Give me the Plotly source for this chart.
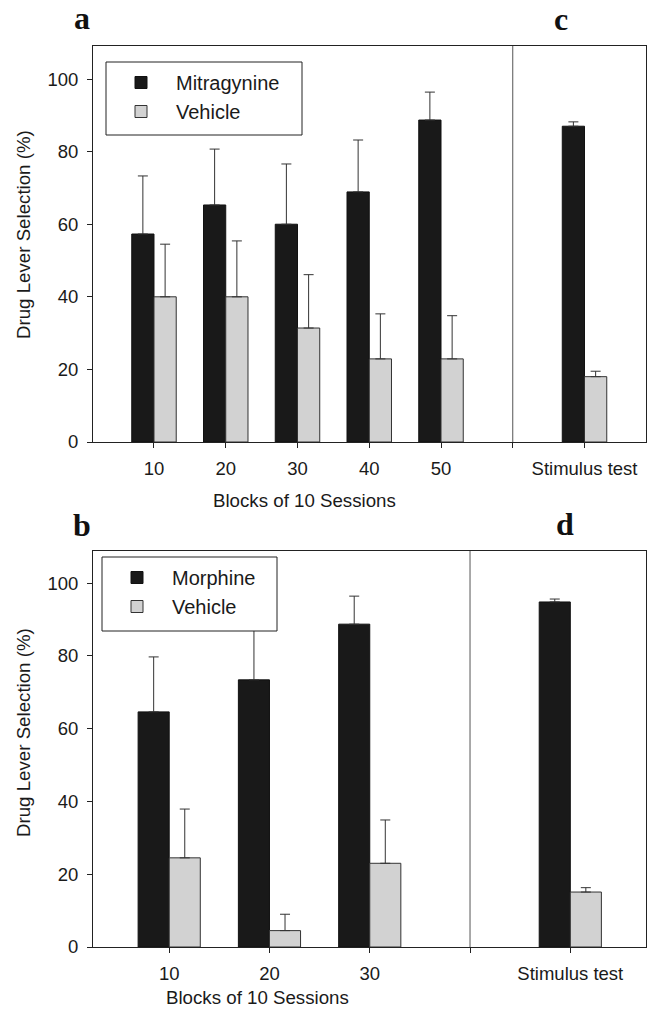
import plotly.graph_objects as go

# ---------------- data ----------------
# Panel a / c : mitragynine training
blocks_a = ["10", "20", "30", "40", "50"]
stim_label = "Stimulus test"
mitragynine = [57.3, 65.3, 60.0, 68.9, 88.7]
mitragynine_err = [16.0, 15.4, 16.6, 14.3, 7.7]
mitragynine_stim = 87.0
mitragynine_stim_err = 1.2
vehicle_a = [40.0, 40.0, 31.4, 22.9, 22.9]
vehicle_a_err = [14.5, 15.4, 14.7, 12.4, 11.9]
vehicle_a_stim = 18.0
vehicle_a_stim_err = 1.5

# Panel b / d : morphine training
blocks_b = ["10", "20", "30"]
morphine = [64.6, 73.4, 88.7]
morphine_err = [15.1, 15.0, 7.7]
morphine_stim = 94.8
morphine_stim_err = 0.8
vehicle_b = [24.5, 4.5, 23.0]
vehicle_b_err = [13.4, 4.5, 11.9]
vehicle_b_stim = 15.1
vehicle_b_stim_err = 1.2

y_ticks = [0, 20, 40, 60, 80, 100]

# ---------------- styling ----------------
FONT = "Liberation Sans, Arial, sans-serif"
SERIF = "Liberation Serif, Times New Roman, serif"
BLACK = "#191919"
GRAY = "#d2d2d2"
EDGE = "#333333"
AX = "#222222"
W = 647
H = 1015
GAP = " "  # empty slot holding the divider

cats_a = blocks_a + [GAP, stim_label]
cats_b = blocks_b + [GAP, stim_label]


def px_x(p):
    return p / W


def px_y(p):
    return 1 - p / H


fig = go.Figure()


def add_pair(drug_name, drug, drug_err, drug_stim, drug_stim_err,
             veh, veh_err, veh_stim, veh_stim_err, blocks, xa, ya, legend):
    x = blocks + [stim_label]
    fig.add_trace(go.Bar(
        x=x, y=drug + [drug_stim], name=drug_name,
        width=0.31, offset=-0.31,
        marker=dict(color=BLACK, line=dict(color="#111111", width=1)),
        error_y=dict(type="data", symmetric=False,
                     array=drug_err + [drug_stim_err],
                     arrayminus=[0] * (len(drug) + 1),
                     color=EDGE, thickness=1, width=5),
        xaxis=xa, yaxis=ya, legend=legend,
    ))
    fig.add_trace(go.Bar(
        x=x, y=veh + [veh_stim], name="Vehicle",
        width=0.31, offset=0,
        marker=dict(color=GRAY, line=dict(color=EDGE, width=1)),
        error_y=dict(type="data", symmetric=False,
                     array=veh_err + [veh_stim_err],
                     arrayminus=[0] * (len(veh) + 1),
                     color=EDGE, thickness=1, width=5),
        xaxis=xa, yaxis=ya, legend=legend,
    ))


add_pair("Mitragynine", mitragynine, mitragynine_err, mitragynine_stim,
         mitragynine_stim_err, vehicle_a, vehicle_a_err, vehicle_a_stim,
         vehicle_a_stim_err, blocks_a, "x", "y", "legend")
add_pair("Morphine", morphine, morphine_err, morphine_stim,
         morphine_stim_err, vehicle_b, vehicle_b_err, vehicle_b_stim,
         vehicle_b_stim_err, blocks_b, "x2", "y2", "legend2")

x_dom = [px_x(93), px_x(645.5)]
axis_common = dict(showline=True, linecolor=AX, linewidth=1, mirror=True,
                   ticks="outside", ticklen=5, tickcolor=AX, tickwidth=1,
                   showgrid=False, zeroline=False, ticklabelstandoff=5,
                   tickfont=dict(family=FONT, size=18.5, color="#1a1a1a"),
                   automargin=False)

legend_common = dict(xanchor="left", yanchor="top",
                     bgcolor="rgba(0,0,0,0)", borderwidth=0,
                     font=dict(family=FONT, size=20, color="#1a1a1a"),
                     itemwidth=60, traceorder="normal")

fig.update_layout(
    width=W, height=H,
    margin=dict(l=0, r=0, t=0, b=0),
    paper_bgcolor="white", plot_bgcolor="white",
    font=dict(family=FONT, color="#1a1a1a"),
    showlegend=True,
    xaxis=dict(domain=x_dom, anchor="y", type="category",
               categoryorder="array", categoryarray=cats_a,
               range=[-0.85, 6.85], **axis_common),
    yaxis=dict(domain=[px_y(442), px_y(46)], anchor="x",
               range=[0, 109.1], tickvals=y_ticks, **axis_common),
    xaxis2=dict(domain=x_dom, anchor="y2", type="category",
                categoryorder="array", categoryarray=cats_b,
                range=[-0.76, 4.75], **axis_common),
    yaxis2=dict(domain=[px_y(947), px_y(551)], anchor="x2",
                range=[0, 108.8], tickvals=y_ticks, **axis_common),
    legend=dict(x=px_x(106), y=px_y(63), **legend_common),
    legend2=dict(x=px_x(102), y=px_y(558), **legend_common),
    bargap=0.38,
)

# legend frames (white boxes, drawn over the bars, under the legend text)
for x0, y0, x1, y1 in ((106, 62, 302, 135), (102, 557, 277, 631)):
    fig.add_shape(type="rect", xref="paper", yref="paper",
                  x0=px_x(x0), x1=px_x(x1), y0=px_y(y1), y1=px_y(y0),
                  fillcolor="white", line=dict(color=AX, width=1),
                  layer="above")

# divider lines between training blocks and stimulus test
fig.add_shape(type="line", xref="x", yref="y domain", x0=len(blocks_a),
              x1=len(blocks_a), y0=0, y1=1, line=dict(color="#555555", width=1))
fig.add_shape(type="line", xref="x2", yref="y2 domain", x0=len(blocks_b),
              x1=len(blocks_b), y0=0, y1=1, line=dict(color="#555555", width=1))

# axis titles
ytitle = "Drug Lever Selection (%)"
xtitle = "Blocks of 10 Sessions"
for yc in (235, 733):
    fig.add_annotation(text=ytitle, xref="paper", yref="paper",
                       x=px_x(23), y=px_y(yc), textangle=-90, showarrow=False,
                       xanchor="center", yanchor="middle",
                       font=dict(family=FONT, size=18.7, color="#1a1a1a"))
for xc, yc in ((304.5, 500), (257, 997)):
    fig.add_annotation(text=xtitle, xref="paper", yref="paper",
                       x=px_x(xc), y=px_y(yc), showarrow=False,
                       xanchor="center", yanchor="middle",
                       font=dict(family=FONT, size=18.7, color="#1a1a1a"))

# panel letters
for letter, xc, yc in (("a", 82, 18), ("c", 561, 19), ("b", 82, 525), ("d", 565, 524)):
    fig.add_annotation(text="<b>%s</b>" % letter, xref="paper", yref="paper",
                       x=px_x(xc), y=px_y(yc), showarrow=False,
                       xanchor="center", yanchor="middle",
                       font=dict(family=SERIF, size=32, color="#111111"))

fig.write_html("out.html", config={"displayModeBar": False},
               post_script="document.body.style.margin='0';"
                           "document.body.style.overflow='hidden';")
